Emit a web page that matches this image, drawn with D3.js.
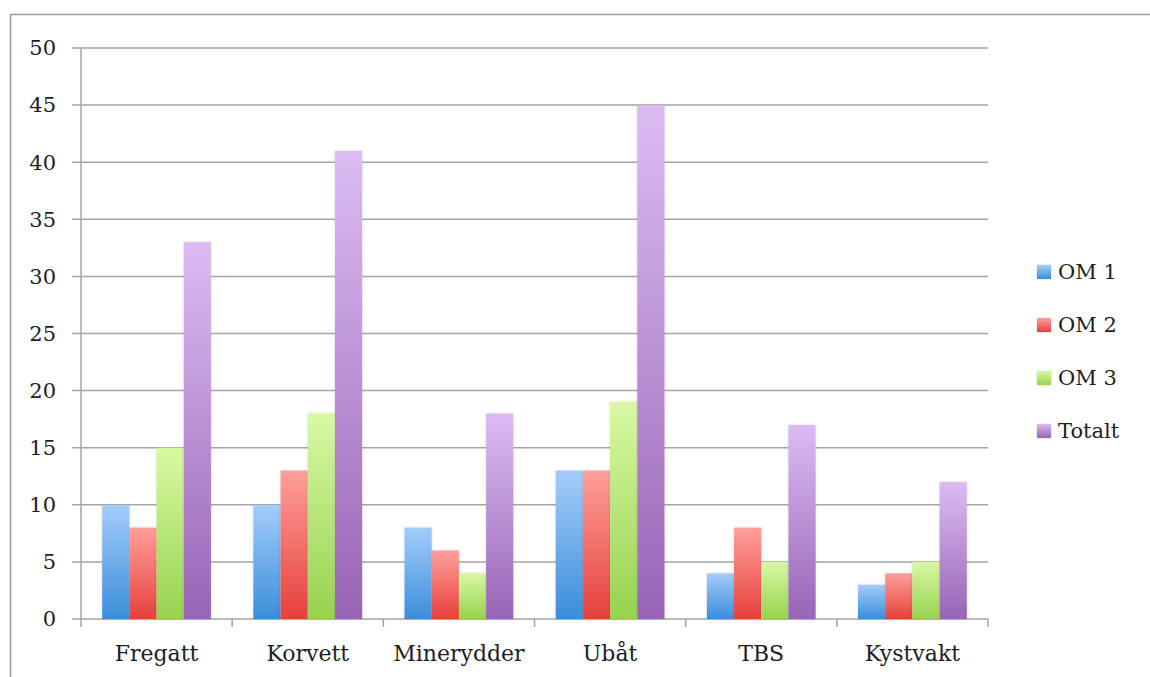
<!DOCTYPE html>
<html lang="no">
<head>
<meta charset="UTF-8">
<title>Fartøy per OM</title>
<style>
    body { margin: 0; background: #fff; }
    svg { display: block; }
    text { font-family: "DejaVu Serif", "Liberation Serif", serif; fill: #1e1e1e; }
</style>
</head>
<body>
<div id="chart"></div>
<script src="https://cdnjs.cloudflare.com/ajax/libs/d3/7.8.5/d3.min.js"></script>
<script>
var categories = ["Fregatt", "Korvett", "Minerydder", "Ubåt", "TBS", "Kystvakt"];
var seriesNames = ["OM 1", "OM 2", "OM 3", "Totalt"];
var om1    = [10, 10, 8, 13, 4, 3];
var om2    = [8, 13, 6, 13, 8, 4];
var om3    = [15, 18, 4, 19, 5, 5];
var totalt = [33, 41, 18, 45, 17, 12];
var yTicks = [0, 5, 10, 15, 20, 25, 30, 35, 40, 45, 50];

// gradient top / bottom colour per series
var colours = [
    ["#a3cdfa", "#3b8ddb"],
    ["#ff9f9a", "#e6403b"],
    ["#d8f9a3", "#97d24f"],
    ["#dbbcf2", "#9964b6"]
];

var width = 1150, height = 677;
var margin = { left: 81, right: 162, top: 48, bottom: 58 };

var svg = d3.select("#chart").append("svg")
    .attr("width", width)
    .attr("height", height);

var defs = svg.append("defs");
colours.forEach(function (c, i) {
    var g = defs.append("linearGradient")
        .attr("id", "grad" + i)
        .attr("x1", 0).attr("y1", 0).attr("x2", 0).attr("y2", 1);
    g.append("stop").attr("offset", "0%").attr("stop-color", c[0]);
    g.append("stop").attr("offset", "100%").attr("stop-color", c[1]);
});
var shadow = defs.append("filter").attr("id", "shadow")
    .attr("x", "-20%").attr("y", "-5%").attr("width", "140%").attr("height", "110%");
shadow.append("feDropShadow")
    .attr("dx", 0).attr("dy", 0).attr("stdDeviation", 1.2)
    .attr("flood-color", "#000").attr("flood-opacity", 0.18);

// outer frame (top and left edges visible)
svg.append("path")
    .attr("d", "M10.5," + height + "V14.5H" + width)
    .attr("fill", "none")
    .attr("stroke", "#9a9a9a")
    .attr("stroke-width", 1.5);

var x0 = d3.scaleBand()
    .domain(categories)
    .range([margin.left, width - margin.right])
    .paddingInner(0).paddingOuter(0);

var x1 = d3.scaleBand()
    .domain(seriesNames)
    .range([0, x0.bandwidth()])
    .paddingInner(0)
    .paddingOuter(0.78);

var y = d3.scaleLinear()
    .domain([0, 50])
    .range([height - margin.bottom, margin.top]);

// gridlines
svg.append("g")
    .selectAll("line")
    .data(yTicks)
    .join("line")
    .attr("x1", margin.left - 9)
    .attr("x2", width - margin.right)
    .attr("y1", function (d) { return y(d); })
    .attr("y2", function (d) { return y(d); })
    .attr("stroke", "#a5a5a5")
    .attr("stroke-width", 1.5);

// y axis line
svg.append("line")
    .attr("x1", margin.left).attr("x2", margin.left)
    .attr("y1", y(50)).attr("y2", y(0))
    .attr("stroke", "#a5a5a5")
    .attr("stroke-width", 1.5);

// y tick labels
svg.append("g")
    .selectAll("text")
    .data(yTicks)
    .join("text")
    .attr("x", 56)
    .attr("y", function (d) { return y(d); })
    .attr("dy", "0.35em")
    .attr("text-anchor", "end")
    .attr("font-size", 21)
    .text(function (d) { return d; });

// x ticks at category boundaries
var bounds = categories.map(function (c) { return x0(c); }).concat([width - margin.right]);
svg.append("g")
    .selectAll("line")
    .data(bounds)
    .join("line")
    .attr("x1", function (d) { return d; })
    .attr("x2", function (d) { return d; })
    .attr("y1", y(0))
    .attr("y2", y(0) + 8)
    .attr("stroke", "#a5a5a5")
    .attr("stroke-width", 1.5);

// x labels
svg.append("g")
    .selectAll("text")
    .data(categories)
    .join("text")
    .attr("x", function (d) { return x0(d) + x0.bandwidth() / 2; })
    .attr("y", 661)
    .attr("text-anchor", "middle")
    .attr("font-size", 22)
    .text(function (d) { return d; });

// bars
var series = [om1, om2, om3, totalt];
var groups = svg.append("g")
    .selectAll("g")
    .data(categories)
    .join("g")
    .attr("transform", function (d) { return "translate(" + x0(d) + ",0)"; });

groups.selectAll("rect")
    .data(function (d, i) {
        return series.map(function (s, k) { return { name: seriesNames[k], k: k, value: s[i] }; });
    })
    .join("rect")
    .attr("x", function (d) { return x1(d.name); })
    .attr("width", x1.bandwidth())
    .attr("y", function (d) { return y(d.value); })
    .attr("height", function (d) { return y(0) - y(d.value); })
    .attr("fill", function (d) { return "url(#grad" + d.k + ")"; })
    .attr("filter", "url(#shadow)");

// legend
var legend = svg.append("g")
    .selectAll("g")
    .data(seriesNames)
    .join("g")
    .attr("transform", function (d, i) { return "translate(1037," + (272 + i * 53) + ")"; });

legend.append("rect")
    .attr("x", 0).attr("y", -7)
    .attr("width", 14).attr("height", 14)
    .attr("fill", function (d, i) { return "url(#grad" + i + ")"; })
    .attr("filter", "url(#shadow)");

legend.append("text")
    .attr("x", 21)
    .attr("dy", "0.35em")
    .attr("font-size", 21)
    .text(function (d) { return d; });
</script>
</body>
</html>
